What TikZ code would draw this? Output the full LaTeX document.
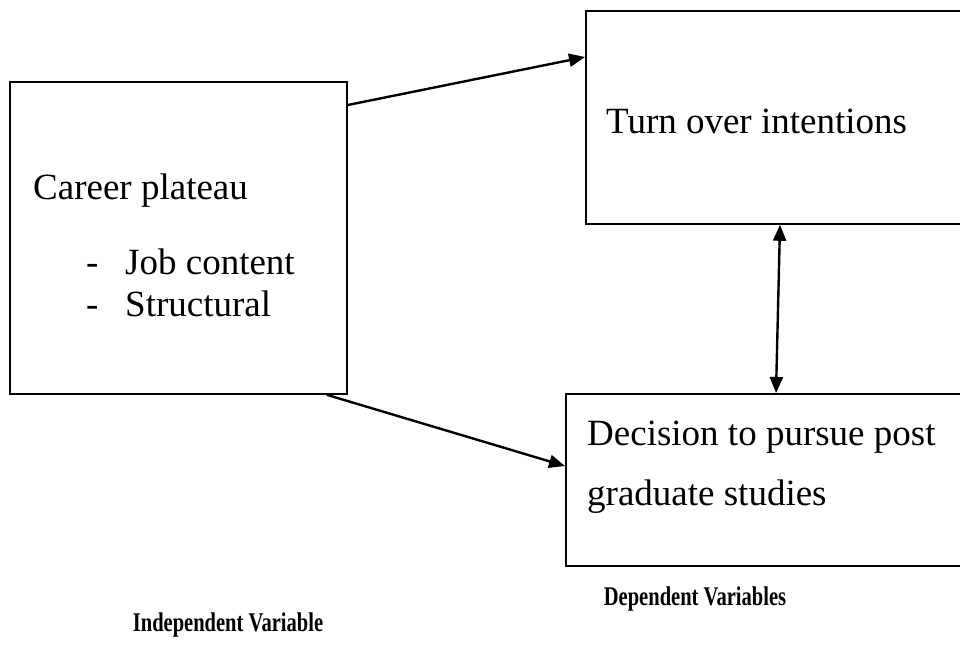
\documentclass[tikz,border=0pt]{standalone}
\usepackage{fontspec}
\setmainfont{Liberation Serif}
\newfontfamily\lblfont[FakeStretch=0.76]{Liberation Serif}
\usetikzlibrary{arrows.meta}
\begin{document}
\begin{tikzpicture}[x=1pt,y=-1pt,
  boxnode/.style={draw,line width=1.8pt,rectangle,inner sep=0pt},
  txt/.style={anchor=base west,inner sep=0pt,font=\fontsize{37}{44}\selectfont},
  lbl/.style={anchor=base,inner sep=0pt,font=\lblfont\fontsize{27}{32}\selectfont\bfseries},
  conn/.style={line width=2.4pt,-{Triangle[length=16pt,width=13pt]}},
  dconn/.style={line width=2.4pt,{Triangle[length=16pt,width=13pt]}-{Triangle[length=16pt,width=13pt]}}]
\useasboundingbox (0,0) rectangle (960,648);
\clip (0,0) rectangle (960,648);
\node[boxnode,minimum width=337pt,minimum height=312pt,anchor=north west] (L) at (9,81) {};
\node[boxnode,minimum width=395pt,minimum height=213pt,anchor=north west] (T) at (585,10) {};
\node[boxnode,minimum width=415pt,minimum height=172pt,anchor=north west] (B) at (565,393) {};
\node[txt] (l1) at (33,199) {Career plateau};
\node[txt] (l2) at (86,274) {-};
\node[txt] (l3) at (125,274) {Job content};
\node[txt] (l4) at (86,316) {-};
\node[txt] (l5) at (125,316) {Structural};
\node[txt] (t1) at (606,133) {Turn over intentions};
\node[txt] (b1) at (587,445) {Decision to pursue post};
\node[txt] (b2) at (587,505) {graduate studies};
\node[lbl] (iv) at (228,631) {Independent Variable};
\node[lbl] (dv) at (695,605) {Dependent Variables};
\draw[conn] ([yshift=-24pt]L.north east) -- ([yshift=-47pt]T.north west);
\draw[conn] ([xshift=-21pt]L.south east) -- ([yshift=-73pt]B.north west);
\draw[dconn] ([xshift=195pt]T.south west) -- ([xshift=211pt]B.north west);
\end{tikzpicture}
\end{document}
